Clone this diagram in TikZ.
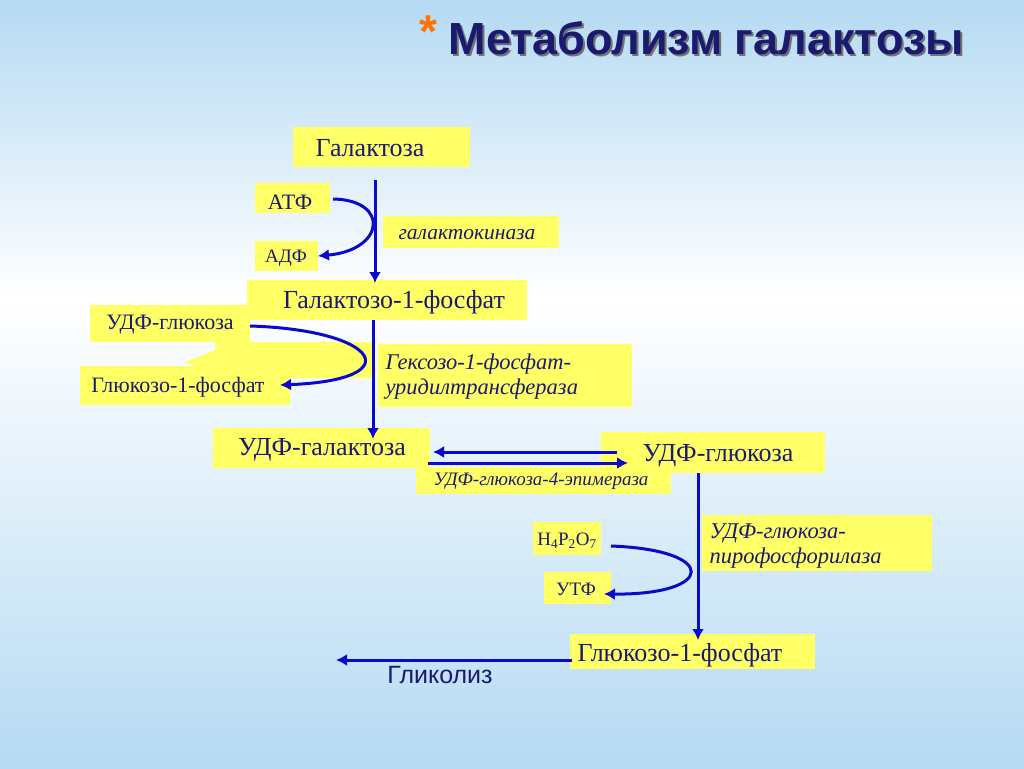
\documentclass[tikz,border=0pt]{standalone}
\usepackage{fontspec}
\setmainfont{Liberation Serif}
\newfontfamily\sansf{Liberation Sans}
\usetikzlibrary{arrows.meta}
\definecolor{yel}{HTML}{FFFF66}
\definecolor{txt}{HTML}{1A1A70}
\definecolor{arr}{HTML}{0A0ACC}
\definecolor{bg}{HTML}{B5DAF3}
\begin{document}
\begin{tikzpicture}[x=1pt,y=-1pt,
  arw/.style={draw=arr,line width=3pt,-{Latex[length=11pt,width=12pt]}}]
\useasboundingbox (0,0) rectangle (1024,768);
\shade[top color=bg,bottom color=white] (0,0) rectangle (1024,300);
\shade[top color=white,bottom color=bg] (0,300) rectangle (1024,768);
% title
\node[text=black!55,font=\sansf\bfseries\fontsize{45}{46}\selectfont,anchor=west] at (447,40) {Метаболизм галактозы};
\node[text=txt,font=\sansf\bfseries\fontsize{45}{46}\selectfont,anchor=west] (title) at (445,38) {Метаболизм галактозы};
\node[text=orange!90!red,font=\sansf\bfseries\fontsize{46}{46}\selectfont] (star) at (428,32) {*};
% boxes
\fill[yel] (293,127) rectangle (470,167);
\node[text=txt,font=\fontsize{26}{28}\selectfont] (gal) at (370,148) {Галактоза};
\fill[yel] (255,183) rectangle (330,213);
\node[text=txt,font=\fontsize{22}{24}\selectfont] (atf) at (290,202) {АТФ};
\fill[yel] (383,216) rectangle (559,248);
\node[text=txt,font=\itshape\fontsize{21.5}{24}\selectfont] (gk) at (467,235) {галактокиназа};
\fill[yel] (255,241) rectangle (318,271);
\node[text=txt,font=\fontsize{19}{20}\selectfont] (adf) at (286,258) {АДФ};
\fill[yel] (247,280) rectangle (527,320);
\node[text=txt,font=\fontsize{26}{28}\selectfont] (g1p) at (394,302) {Галактозо-1-фосфат};
\fill[yel] (90,305) rectangle (250,342);
\node[text=txt,font=\fontsize{22}{24}\selectfont] (udpg1) at (170,325) {УДФ-глюкоза};
\fill[yel] (215,342) -- (372,342) -- (372,378) -- (200,378) -- (200,368) -- (185,362) -- (215,350) -- cycle;
\fill[yel] (80,366) rectangle (290,405);
\node[text=txt,font=\fontsize{22}{24}\selectfont] (glc1) at (178,387) {Глюкозо-1-фосфат};
\fill[yel] (378,344) rectangle (632,407);
\node[text=txt,font=\itshape\fontsize{22.5}{25}\selectfont,align=left,anchor=west] (hex) at (382,377) {Гексозо-1-фосфат-\\уридилтрансфераза};
\fill[yel] (213,428) rectangle (430,468);
\node[text=txt,font=\fontsize{26}{28}\selectfont] (udpgal) at (322,450) {УДФ-галактоза};
\fill[yel] (601,432) rectangle (825,473);
\node[text=txt,font=\fontsize{26}{28}\selectfont] (udpglc) at (718,456) {УДФ-глюкоза};
\fill[yel] (416,467) rectangle (671,494);
\node[text=txt,font=\itshape\fontsize{19}{20}\selectfont] (epi) at (541,481) {УДФ-глюкоза-4-эпимераза};
\fill[yel] (533,522) rectangle (601,555);
\node[text=txt,font=\fontsize{19}{20}\selectfont] (ppi) at (567,541) {H\textsubscript{4}P\textsubscript{2}O\textsubscript{7}};
\fill[yel] (544,572) rectangle (611,604);
\node[text=txt,font=\fontsize{19}{20}\selectfont] (utf) at (576,589) {УТФ};
\fill[yel] (702,515) rectangle (932,571);
\node[text=txt,font=\itshape\fontsize{22.5}{25}\selectfont,align=left,anchor=west] (ppl) at (706,546) {УДФ-глюкоза-\\пирофосфорилаза};
\fill[yel] (570,634) rectangle (815,669);
\node[text=txt,font=\fontsize{26}{28}\selectfont] (glc2) at (680,655) {Глюкозо-1-фосфат};
\node[text=txt,font=\sansf\fontsize{25}{27}\selectfont] (glyc) at (440,675) {Гликолиз};
% coordinates
\coordinate (a1) at (375,180); \coordinate (a2) at (375,283);
\coordinate (b1) at (373,320); \coordinate (b2) at (373,439);
\coordinate (c1) at (698,473); \coordinate (c2) at (698,640);
% arrows
\draw[arw] (a1) -- (a2);
\draw[arw] (333,199) .. controls (390,200) and (385,250) .. (318,256);
\draw[arw] (b1) -- (b2);
\draw[arw] (250,326) .. controls (380,330) and (410,380) .. (280,385);
\draw[arw] (617,452) -- (433,452);
\draw[arw] (428,463) -- (628,463);
\draw[arw] (c1) -- (c2);
\draw[arw] (611,546) .. controls (720,550) and (715,595) .. (604,594);
\draw[arw] (572,660) -- (336,660);
\end{tikzpicture}
\end{document}
